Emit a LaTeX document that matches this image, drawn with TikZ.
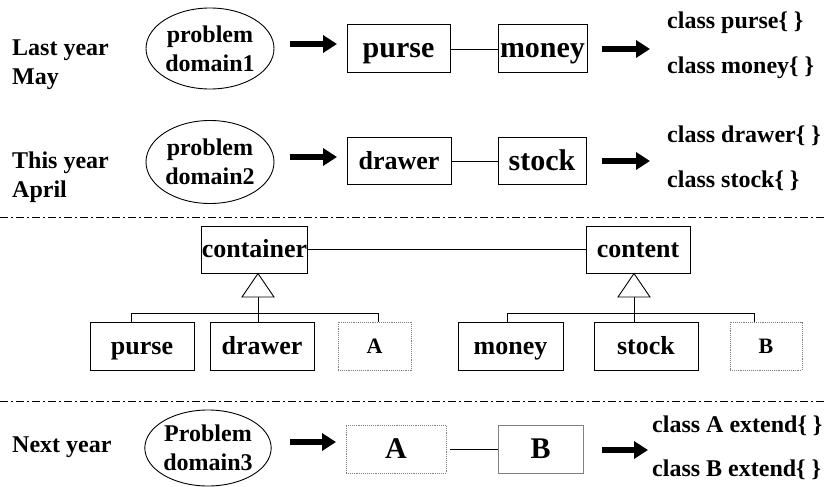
\documentclass[tikz,border=0pt]{standalone}
\usepackage{fontspec}
\setmainfont{Liberation Serif}
\usetikzlibrary{arrows.meta,shapes.geometric}
\begin{document}
\begin{tikzpicture}[x=1pt,y=-1pt,
  f24/.style={font=\fontsize{24}{29}\selectfont\bfseries},
  f22/.style={font=\fontsize{22}{26}\selectfont\bfseries, text height=15pt, text depth=1pt},
  f26/.style={font=\fontsize{26}{30}\selectfont\bfseries, text height=17pt, text depth=1pt},
  f30/.style={font=\fontsize{30}{34}\selectfont\bfseries, text height=19pt, text depth=1pt},
  lbl/.style={f24, align=left, inner sep=0pt, anchor=west},
  ell/.style={draw, ellipse, line width=0.9pt, inner sep=0pt, f24, align=center},
  box/.style={draw, line width=1pt, inner sep=0pt},
  gbox/.style={draw=gray, densely dotted, line width=0.9pt, inner sep=0pt},
  cls/.style={f24, inner sep=0pt, anchor=base west},
  fat/.style={line width=5.5pt, -{Triangle[length=14pt,width=17pt]}},
  link/.style={line width=0.9pt},
  sep/.style={line width=0.8pt, dash pattern=on 8pt off 3pt on 2pt off 3pt}
]
\useasboundingbox[fill=white] (0,0) rectangle (825,487);

% ---------- row 1 ----------
\node[lbl] (ly) at (12,65) {Last year\\May};
\node[ell, minimum width=128pt, minimum height=81pt] (e1) at (210,48.5) {problem\\domain1};
\coordinate (a1s) at (290,44);
\coordinate (a1e) at (337,44);
\draw[fat] (a1s) -- (a1e);
\node[box, f30, minimum width=103pt, minimum height=48pt] (p1) at (398.5,49) {purse};
\node[box, f30, minimum width=89pt, minimum height=48pt] (m1) at (542.5,49) {money};
\draw[link] (p1.east) -- (m1.west);
\coordinate (b1s) at (602,49);
\coordinate (b1e) at (650,49);
\draw[fat] (b1s) -- (b1e);
\node[cls] (c1a) at (667,29) {class purse\{ \}};
\node[cls] (c1b) at (667,74) {class money\{ \}};

% ---------- row 2 ----------
\node[lbl] (ty) at (12,177) {This year\\April};
\node[ell, minimum width=128pt, minimum height=83pt] (e2) at (210,162) {problem\\domain2};
\coordinate (a2s) at (290,157);
\coordinate (a2e) at (337,157);
\draw[fat] (a2s) -- (a2e);
\node[box, f26, minimum width=104pt, minimum height=47pt] (d2) at (399,161) {drawer};
\node[box, f30, minimum width=88pt, minimum height=47pt] (s2) at (542,161) {stock};
\draw[link] (d2.east) -- (s2.west);
\coordinate (b2s) at (602,161);
\coordinate (b2e) at (650,161);
\draw[fat] (b2s) -- (b2e);
\node[cls] (c2a) at (667,142) {class drawer\{ \}};
\node[cls] (c2b) at (667,187) {class stock\{ \}};

% ---------- separator 1 ----------
\draw[sep] (0,217) -- (825,217);

% ---------- middle ----------
\node[box, f26, minimum width=105pt, minimum height=47pt] (cont) at (254.5,249.5) {container};
\node[box, f26, minimum width=104pt, minimum height=47pt] (cnt) at (638,249.5) {content};
\draw[link] (cont.east) -- (cnt.west);

\node[box, f26, minimum width=104pt, minimum height=48pt] (pu) at (142,346) {purse};
\node[box, f26, minimum width=104pt, minimum height=48pt] (dr) at (262,346) {drawer};
\node[gbox, f22, minimum width=73pt, minimum height=48pt] (am) at (374.5,346) {A};

\node[box, f26, minimum width=105pt, minimum height=48pt] (mo) at (510.5,346) {money};
\node[box, f26, minimum width=104pt, minimum height=48pt] (st) at (646,346) {stock};
\node[gbox, f22, minimum width=72pt, minimum height=48pt] (bm) at (766,346) {B};

% inheritance, left
\coordinate (t1a) at (258,273.5);
\coordinate (t1b) at (258,297);
\draw[link] (t1a) -- ++(-16,23.5) -- ++(32,0) -- cycle;
\draw[link] (t1b) -- (t1b |- dr.north);
\coordinate (bl1) at (131,313);
\coordinate (br1) at (378,313);
\draw[link] (bl1 |- pu.north) -- (bl1) -- (br1) -- (br1 |- am.north);

% inheritance, right
\coordinate (t2a) at (634,273.5);
\coordinate (t2b) at (634,297);
\draw[link] (t2a) -- ++(-16,23.5) -- ++(32,0) -- cycle;
\draw[link] (t2b) -- (t2b |- st.north);
\coordinate (bl2) at (507,313);
\coordinate (br2) at (754,313);
\draw[link] (bl2 |- mo.north) -- (bl2) -- (br2) -- (br2 |- bm.north);

% ---------- separator 2 ----------
\draw[sep] (0,401) -- (825,401);

% ---------- row 3 ----------
\node[f24, inner sep=0pt, anchor=west] (ny) at (12,447) {Next year};
\node[ell, minimum width=124pt, minimum height=76pt] (e3) at (208,448) {Problem\\domain3};
\coordinate (a3s) at (290,442);
\coordinate (a3e) at (336,442);
\draw[fat] (a3s) -- (a3e);
\node[gbox, f30, minimum width=100pt, minimum height=48pt] (a3) at (396,449) {A};
\node[draw=gray, line width=0.8pt, inner sep=0pt, f30, minimum width=85pt, minimum height=48pt] (b3) at (540.5,449) {B};
\draw[link] ([xshift=4pt]a3.east) -- (b3.west);
\coordinate (c3s) at (602,450);
\coordinate (c3e) at (648,450);
\draw[fat] (c3s) -- (c3e);
\node[cls] (c3a) at (652,432) {class A extend\{ \}};
\node[cls] (c3b) at (652,476) {class B extend\{ \}};
\end{tikzpicture}
\end{document}
